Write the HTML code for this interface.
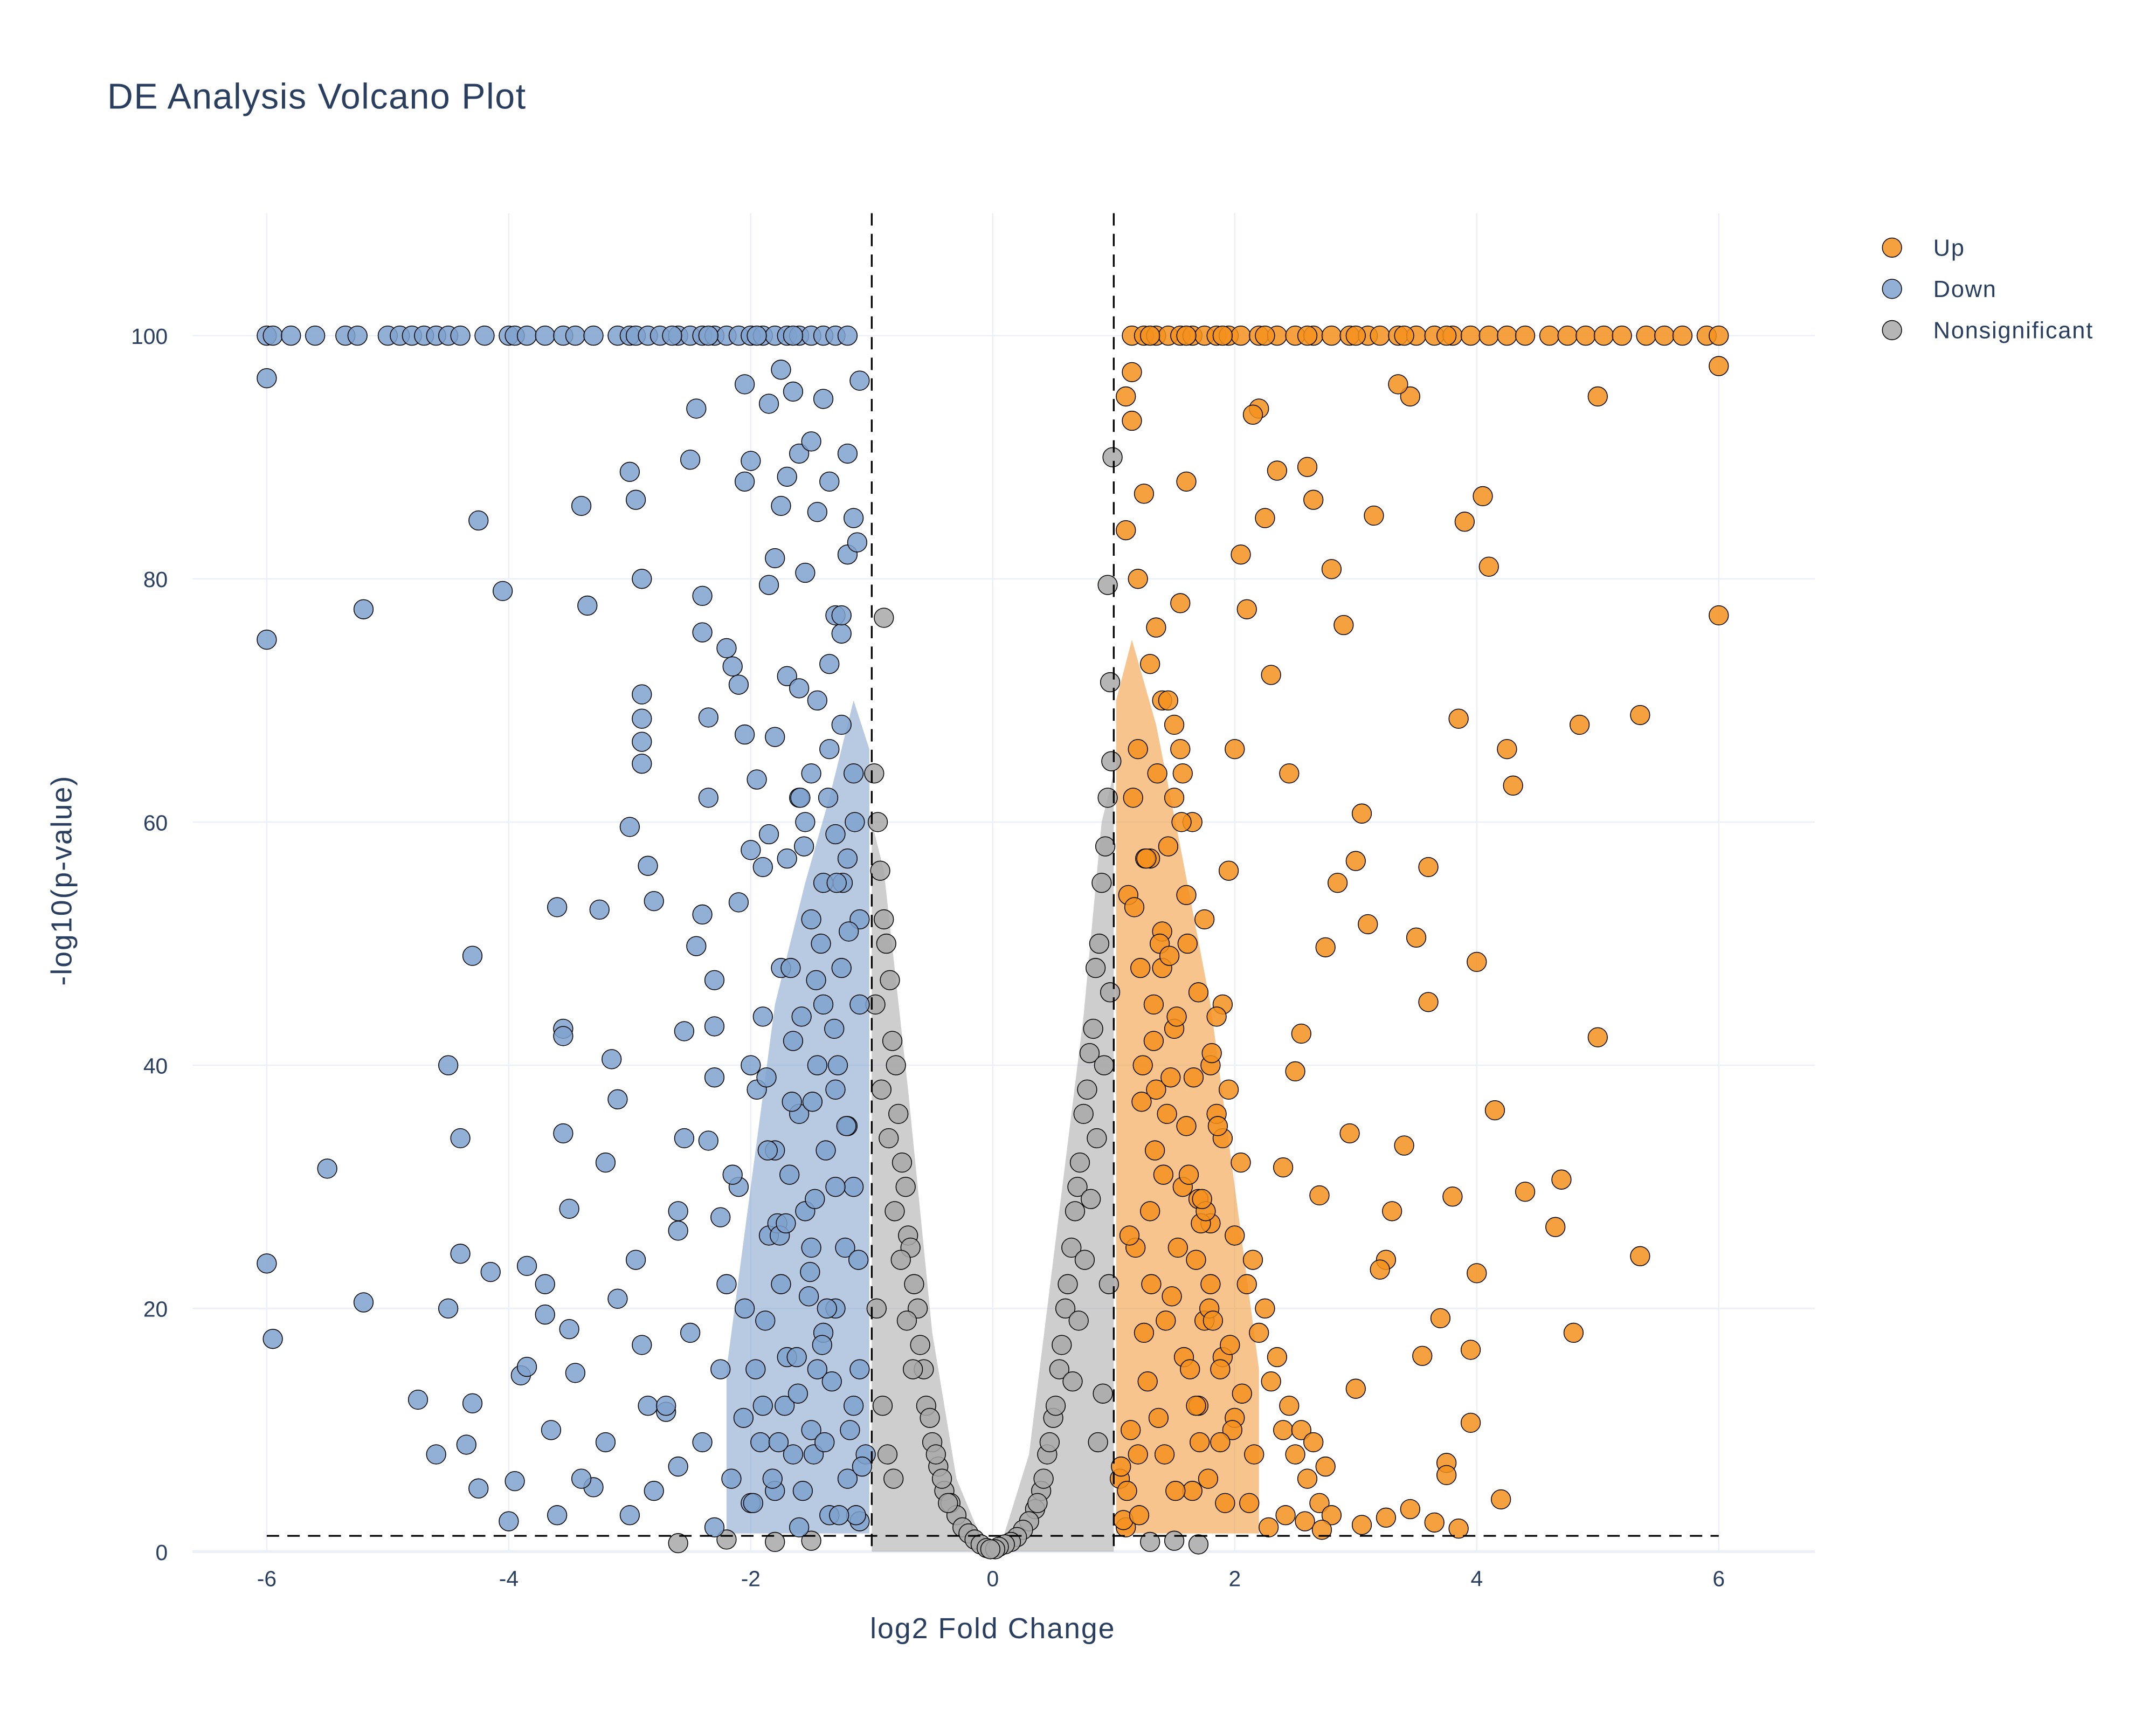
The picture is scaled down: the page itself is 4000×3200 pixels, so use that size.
<!DOCTYPE html>
<html><head><meta charset="utf-8"><style>
html,body{margin:0;padding:0;background:#fff;}
svg{display:block;font-family:"Liberation Sans",sans-serif;}
</style></head><body>
<svg id="chart" width="4000" height="3200" viewBox="0 0 1568 1254" preserveAspectRatio="none" xmlns="http://www.w3.org/2000/svg">
<rect width="1568" height="1254" fill="#fff"/>
<text x="78" y="79" font-size="26" letter-spacing="0.6" fill="#2a3f5f">DE Analysis Volcano Plot</text>
<g id="grid"></g>
<g id="bands"></g>
<g id="pts"></g>
<g id="lines"></g>
<g id="axes"></g>
<text x="722" y="1191" font-size="21" letter-spacing="0.8" fill="#2a3f5f" text-anchor="middle">log2 Fold Change</text>
<text x="52" y="640" font-size="21" letter-spacing="0.8" fill="#2a3f5f" text-anchor="middle" transform="rotate(-90 52 640)">-log10(p-value)</text>
<g>
<g><circle cx="1376" cy="180" r="7" fill="#F5901E" fill-opacity="0.85" stroke="#000" stroke-width="0.6"/><text x="1406" y="186" font-size="17" letter-spacing="0.7" fill="#2a3f5f">Up</text></g>
<g><circle cx="1376" cy="210" r="7" fill="#7FA2CE" fill-opacity="0.85" stroke="#000" stroke-width="0.6"/><text x="1406" y="216" font-size="17" letter-spacing="0.7" fill="#2a3f5f">Down</text></g>
<g><circle cx="1376" cy="240" r="7" fill="#A8A8A8" fill-opacity="0.85" stroke="#000" stroke-width="0.6"/><text x="1406" y="246" font-size="17" letter-spacing="0.7" fill="#2a3f5f">Nonsignificant</text></g>
</g>
</svg>
<script>
const xTicks=[-6,-4,-2,0,2,4,6];
const yTicks=[0,20,40,60,80,100];
const fcThreshold=1;
const pThreshold=1.3;
const downTopX=[-6,-5.95,-5.8,-5.6,-5.35,-5.25,-5.0,-4.9,-4.8,-4.7,-4.6,-4.5,-4.4,-4.2,-4.0,-3.95,-3.85,-3.7,-3.55,-3.45,-3.3,-3.1,-3.0,-2.95,-2.85,-2.75,-2.6,-2.5,-2.4,-2.3,-2.2,-2.1,-2.0,-1.9,-1.8,-1.7,-1.6,-1.5,-1.4,-1.3,-1.2,-2.65,-2.35,-1.95,-1.65];
const upTopX=[1.15,1.25,1.35,1.45,1.55,1.65,1.75,1.85,1.95,2.05,2.2,2.35,2.5,2.65,2.8,2.95,3.1,3.2,3.35,3.5,3.65,3.8,3.95,4.1,4.25,4.4,4.6,4.75,4.9,5.05,5.2,5.4,5.55,5.7,5.9,6.0,1.3,1.6,1.9,2.25,2.6,3.0,3.4,3.75];
const downX=[-6,-6,-6,-5.95,-5.5,-5.2,-5.2,-4.75,-4.6,-4.5,-4.5,-4.4,-4.4,-4.35,-4.3,-4.3,-4.25,-4.25,-4.15,-4.05,-4.0,-3.95,-3.9,-3.85,-3.85,-3.7,-3.7,-3.65,-3.6,-3.55,-3.55,-3.55,-3.5,-3.5,-3.45,-3.4,-3.35,-3.3,-3.25,-3.2,-3.15,-3.1,-3.1,-3.0,-3.0,-2.95,-2.9,-2.9,-2.9,-2.9,-2.85,-2.8,-2.9,-2.95,-2.9,-2.85,-2.7,-2.6,-2.6,-2.55,-2.5,-2.45,-2.4,-2.4,-2.35,-2.35,-2.4,-2.45,-2.3,-2.3,-2.35,-2.25,-2.2,-2.15,-2.1,-2.05,-2.0,-2.05,-2.05,-2.1,-2.0,-1.95,-1.9,-1.85,-1.8,-1.85,-1.75,-1.7,-1.65,-1.6,-1.55,-1.5,-1.45,-1.4,-1.35,-1.3,-1.25,-1.2,-1.15,-1.2,-1.1,-1.3,-1.35,-1.25,-1.15,-1.2,-1.7,-1.8,-1.6,-1.5,-1.75,-1.9,-2.0,-1.4,-1.3,-1.6,-1.8,-2.1,-2.2,-1.5,-1.3,-1.7,-1.9,-2.4,-2.6,-2.8,-3.0,-1.5,-1.2,-1.35,-1.6,-2.0,-2.3,-1.1,-1.15,-1.1,-1.05,-1.45,-1.55,-1.65,-1.75,-1.85,-2.05,-2.25,-2.5,-2.7,-3.2,-3.4,-3.6,-1.25,-1.4,-1.55,-1.1,-1.3,-1.2,-1.45,-1.65,-1.8,-1.1,-1.95,-2.15,-1.7,-1.5,-1.35,-1.25,-1.6,-1.45,-1.85,-2.3,-2.55,-1.15,-1.75,-1.4,
-1.12,-1.18,-1.22,-1.28,-1.33,-1.38,-1.42,-1.48,-1.52,-1.58,-1.62,-1.68,-1.72,-1.78,-1.82,-1.88,-1.92,-1.98,-1.08,-1.14,-1.24,-1.36,-1.46,-1.56,-1.66,-1.76,-1.86,-1.96,-2.06,-2.16,-1.13,-1.27,-1.37,-1.47,-1.57,-1.67,-1.77,-1.87,-1.11,-1.21,-1.31,-1.41,-1.51,-1.61,-1.71,-1.19,-1.29,-1.39,-1.49,-1.59];
const downY=[96.5,75,23.7,17.5,31.5,77.5,20.5,12.5,8,40,20,34,24.5,8.8,49,12.2,84.8,5.2,23,79,2.5,5.8,14.5,23.5,15.2,22,19.5,10,53,43,42.4,34.4,28.2,18.3,14.7,86,77.8,5.3,52.8,32,40.5,37.2,20.8,88.8,59.6,86.5,80,70.5,68.5,66.6,56.4,53.5,64.8,24,17,12,11.5,28,26.4,42.8,89.8,94,78.6,75.6,68.6,62,52.4,49.8,43.2,39,33.8,27.5,74.3,72.8,71.3,88,89.7,96,67.2,53.4,57.7,63.5,56.3,79.5,81.7,94.4,97.2,88.4,95.4,90.3,80.5,91.3,85.5,94.8,88,77,75.5,82,85,90.3,96.3,59,66,68,64,57,72,67,62,52,48,44,40,45,38,36,33,30,22,25,20,16,12,9,7,5,3,10,6,3,2,4,2,45,30,15,8,70,28,42,22,26,20,15,18,12,9,6,3,48,55,60,52,30,35,15,8,5,2.5,38,31,57,64,73,77,71,40,59,47,34,12,86,18,83,
10,25,40,14,33,50,8,21,44,16,31,12,27,6,19,9,4,7,60,55,62,47,58,37,26,33,15,11,6,3,3,20,29,5,48,9,39,24,35,43,17,23,13,27,51,55,9,37,62,40];
const upX=[6,6,5.35,5.35,5.0,5.0,4.85,4.8,4.7,4.65,4.4,4.3,4.25,4.2,4.15,4.1,4.05,4.0,4.0,3.95,3.95,3.9,3.85,3.8,3.75,3.75,3.7,3.6,3.6,3.55,3.5,3.45,3.4,3.35,3.3,3.25,3.2,3.15,3.1,3.05,3.0,3.0,2.95,2.9,2.85,2.8,2.75,2.7,2.65,2.6,2.55,2.5,2.45,2.4,2.35,2.3,2.25,2.2,2.15,2.1,2.05,2.0,1.95,1.9,1.85,1.8,1.75,1.7,1.65,1.6,1.55,1.5,1.45,1.4,1.35,1.3,1.25,1.2,1.15,1.1,1.1,1.2,1.3,1.4,1.5,1.6,1.7,1.8,1.9,2.0,2.1,2.2,2.3,2.4,2.5,2.6,2.7,2.8,1.15,1.25,1.35,1.45,1.55,1.65,1.75,1.85,1.95,2.05,2.15,2.25,2.35,2.45,2.55,2.65,2.75,1.1,1.2,1.3,1.4,1.5,1.6,1.7,1.8,1.9,2.0,1.05,1.12,1.22,1.33,1.44,1.57,1.68,1.79,1.88,1.98,2.12,2.28,2.42,2.58,2.72,3.05,3.25,3.45,3.65,3.85,
1.08,1.14,1.18,1.24,1.28,1.34,1.38,1.42,1.48,1.52,1.58,1.62,1.68,1.72,1.78,1.82,1.88,1.92,1.06,1.16,1.26,1.36,1.46,1.56,1.66,1.76,1.86,1.96,2.06,2.16,1.11,1.21,1.31,1.41,1.51,1.61,1.71,1.81,1.13,1.23,1.33,1.43,1.53,1.63,1.73,1.17,1.27,1.37,1.47,1.57];
const upY=[97.5,77,68.8,24.3,95,42.3,68,18,30.6,26.7,29.6,63,66,4.3,36.3,81,86.8,48.5,22.9,16.6,10.6,84.7,68.5,29.2,7.3,6.3,19.2,56.3,45.2,16.1,50.5,95,33.4,96,28,24,23.2,85.2,51.6,60.7,56.8,13.4,34.4,76.2,55,80.8,49.7,29.3,86.5,89.2,42.6,39.5,64,31.6,88.9,72.1,85,94,93.5,77.5,82,66,56,45,36,27,19,12,5,88,78,68,58,48,38,28,18,8,97,95,84,80,73,70,62,54,46,40,34,26,22,18,14,10,8,6,4,3,93,87,76,70,66,60,52,44,38,32,24,20,16,12,10,9,7,2,66,57,51,43,35,29,22,16,11,6,54,48,42,36,30,24,20,15,10,4,2,3,2.5,1.8,2.2,2.8,3.5,2.4,1.9,2.6,
10,25,40,14,33,50,8,21,44,16,31,12,27,6,19,9,4,7,62,57,64,49,60,39,28,35,17,13,8,5,3,22,31,5,50,9,41,26,37,45,19,25,15,29,53,57,11,39,64,42];
const nsX=[-0.95,-0.9,-0.85,-0.8,-0.75,-0.7,-0.65,-0.6,-0.55,-0.5,-0.45,-0.4,-0.35,-0.3,-0.25,-0.2,-0.15,-0.1,-0.05,-0.98,-0.93,-0.88,-0.83,-0.78,-0.72,-0.68,-0.62,-0.57,-0.52,-0.47,-0.42,-0.37,-0.97,-0.92,-0.86,-0.81,-0.76,-0.71,-0.66,-0.96,-0.91,-0.87,-0.82,0.95,0.9,0.85,0.8,0.75,0.7,0.65,0.6,0.55,0.5,0.45,0.4,0.35,0.3,0.25,0.2,0.15,0.1,0.05,0.98,0.93,0.88,0.83,0.78,0.72,0.68,0.62,0.57,0.52,0.47,0.42,0.37,0.97,0.92,0.86,0.81,0.76,0.71,0.66,0.96,0.91,0.87,0.99,0.95,0.97,-1.8,-1.5,-2.2,-2.6,1.5,1.7,1.3,-0.9,0.02,-0.02];
const nsY=[60,52,47,40,32,26,22,17,12,9,7,5,4,3,2,1.5,1,0.6,0.3,64,56,50,42,36,30,25,20,15,11,8,6,4,45,38,34,28,24,19,15,20,12,8,6,62,55,48,41,36,30,25,20,15,11,8,5,3.5,2.5,1.8,1.2,0.8,0.6,0.4,65,58,50,43,38,32,28,22,17,12,9,6,4,46,40,34,29,24,19,14,22,13,9,90,79.5,71.5,0.8,0.9,1.0,0.7,0.9,0.6,0.8,76.8,0.2,0.2];
const downBandX=[-1.02,-1.02,-1.15,-1.35,-1.55,-1.8,-2.0,-2.2,-2.2];
const downBandY=[1.5,66,70,62,55,45,30,15,1.5];
const upBandX=[1.02,1.02,1.15,1.35,1.55,1.8,2.0,2.2,2.2];
const upBandY=[1.5,70,75,68,58,45,30,15,1.5];
const nsLeftBandX=[-1.0,-1.0,-0.9,-0.7,-0.5,-0.3,-0.05];
const nsLeftBandY=[0,60,56,38,18,6,0];
const nsRightBandX=[0.05,0.3,0.55,0.75,0.9,1.0,1.0];
const nsRightBandY=[0,8,28,44,60,64,0];

const NS='http://www.w3.org/2000/svg';
const X=v=>722+v*88;
const Y=v=>1128-v*8.84;
function mk(tag,attrs,parent){const e=document.createElementNS(NS,tag);for(const k in attrs)e.setAttribute(k,attrs[k]);parent.appendChild(e);return e;}
const grid=document.getElementById('grid'),axes=document.getElementById('axes'),pts=document.getElementById('pts'),lines=document.getElementById('lines'),bands=document.getElementById('bands');
xTicks.forEach(t=>{
  const l=mk('line',{x1:X(t),x2:X(t),y1:155,y2:1128,stroke:'#EBF0F8','stroke-width':1},grid);
  
  
  const tx=mk('text',{x:X(t),y:1153,'font-size':16,fill:'#2a3f5f','text-anchor':'middle'},axes);
  tx.textContent=t;
  
  
});
yTicks.forEach(t=>{
  const l=mk('line',{x1:140,x2:1320,y1:Y(t),y2:Y(t),stroke:'#EBF0F8','stroke-width':t===0?2:1},grid);
  
  
  const tx=mk('text',{x:122,y:Y(t)+6,'font-size':16,fill:'#2a3f5f','text-anchor':'end'},axes);
  tx.textContent=t;
  
  
});
function band(xs,ys,color,name){
  const p=mk('polygon',{points:xs.map((x,i)=>X(x)+','+Y(ys[i])).join(' '),fill:color,'fill-opacity':0.5},bands);
  
  
}
band(downBandX,downBandY,'#6F95C6','down-density-band');
band(upBandX,upBandY,'#F08A1C','up-density-band');
band(nsLeftBandX,nsLeftBandY,'#9E9E9E','nonsig-left-band');
band(nsRightBandX,nsRightBandY,'#9E9E9E','nonsig-right-band');
function dot(x,y,color,name){
  const c=mk('circle',{cx:X(x),cy:Y(y),r:7,fill:color,'fill-opacity':0.85,stroke:'#000','stroke-width':0.6},pts);
  
  
}
nsX.forEach((x,i)=>dot(x,nsY[i],'#A8A8A8','nonsig-point'));
downX.forEach((x,i)=>dot(x,downY[i],'#7FA2CE','down-point'));
downTopX.forEach(x=>dot(x,100,'#7FA2CE','down-point'));
upX.forEach((x,i)=>dot(x,upY[i],'#F5901E','up-point'));
upTopX.forEach(x=>dot(x,100,'#F5901E','up-point'));
[-fcThreshold,fcThreshold].forEach(v=>{
  const l=mk('line',{x1:X(v),x2:X(v),y1:155,y2:1128,stroke:'#000','stroke-width':1.3,'stroke-dasharray':'9,6'},lines);
  
  
});
const h=mk('line',{x1:X(-6),x2:X(6),y1:Y(pThreshold),y2:Y(pThreshold),stroke:'#000','stroke-width':1.3,'stroke-dasharray':'9,6'},lines);


</script>
</body></html>
